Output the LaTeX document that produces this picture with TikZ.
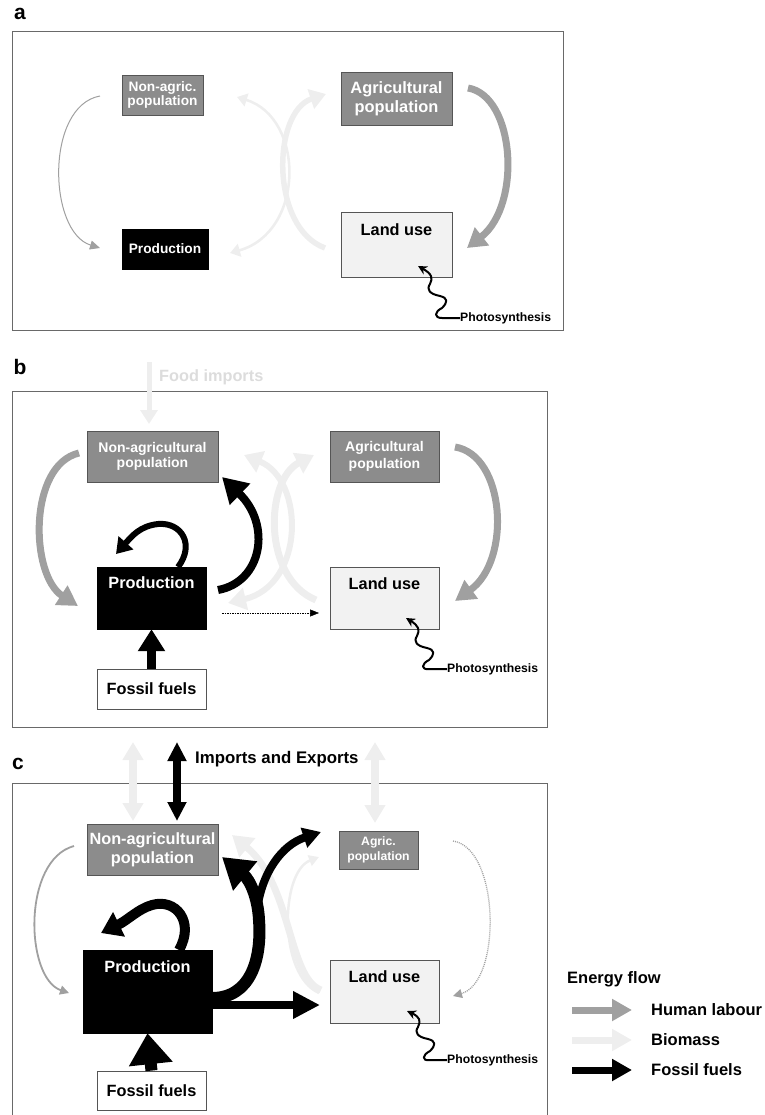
\documentclass[tikz,border=0pt]{standalone}
\usepackage{fontspec}
\setmainfont{Liberation Sans}
\usetikzlibrary{arrows.meta}
\definecolor{boxgray}{RGB}{140,140,140}
\definecolor{labourc}{RGB}{160,160,160}
\definecolor{biomassc}{RGB}{238,238,238}
\definecolor{landfill}{RGB}{242,242,242}
\definecolor{framec}{RGB}{105,105,105}
\definecolor{edgec}{RGB}{85,85,85}
\definecolor{foodtxt}{RGB}{220,220,220}
\begin{document}
\begin{tikzpicture}[x=1pt,y=-1pt,
  fsX/.style={font=\bfseries\fontsize{21}{24}\selectfont},
  fsL/.style={font=\bfseries\fontsize{16.3}{19}\selectfont},
  fsM/.style={font=\bfseries\fontsize{14}{15.5}\selectfont},
  fsA/.style={font=\bfseries\fontsize{13.7}{14.5}\selectfont},
  fsS/.style={font=\bfseries\fontsize{12.2}{14}\selectfont},
  popbox/.style={draw=edgec, fill=boxgray, text=white, align=center, inner sep=0pt, line width=0.8pt},
  prodbox/.style={draw=black, fill=black, text=white, inner sep=0pt},
  landbox/.style={draw=edgec, fill=landfill, inner sep=0pt, line width=0.8pt},
  fossilbox/.style={draw=edgec, fill=white, inner sep=0pt, line width=0.8pt},
  txt/.style={inner sep=0pt},
  frame/.style={draw=framec, line width=0.9pt},
  wh/.style 2 args={minimum width=#1pt, minimum height=#2pt},
  head/.style 2 args={-{Triangle[length=#1pt,width=#2pt]}},
  dhead/.style 2 args={{Triangle[length=#1pt,width=#2pt]}-{Triangle[length=#1pt,width=#2pt]}},
  flowL/.style={draw=labourc, line width=#1pt},
  flowB/.style={draw=biomassc, line width=#1pt},
  flowF/.style={draw=black, line width=#1pt},
  wavy/.style={draw=black, line width=2pt, -{Stealth[length=9pt,width=9pt]}, line join=round},
]
\useasboundingbox (0,0) rectangle (764,1115);

% ================= panel a =================
\node[txt,fsX] (la) at (20,14) {a};
\draw[frame] (12,31) rectangle (563,330);
\node[popbox,fsA,wh={81}{40}] (nonA) at (162.5,95) {Non-agric.\\population};
\node[prodbox,fsA,wh={86}{40}] (prodA) at (165,249) {Production};
\node[popbox,font=\bfseries\fontsize{16.4}{19}\selectfont,wh={111}{53}] (agrA) at (396.5,98.5) {Agricultural\\population};
\node[landbox,wh={111}{65}] (landA) at (396.5,244.5) {};
\node[txt,fsL] (landAt) at (396.5,230) {Land use};
\node[txt,fsS,anchor=west] (photoA) at (460,318) {Photosynthesis};
\coordinate (aBs) at (325,248); \coordinate (aBe) at (326,94);
\coordinate (aDs) at (237,97);  \coordinate (aDe) at (230,253);
\coordinate (aLs) at (100,96);  \coordinate (aLe) at (100,248);
\coordinate (aGs) at (468,88);  \coordinate (aGe) at (467,248);
\draw[flowB={5.5},head={16}{20}] (aBs) .. controls (270,228) and (272,112) .. (aBe);
\draw[flowB={2.6},dhead={10}{13}] (aDs) .. controls (305,118) and (305,232) .. (aDe);
\draw[flowL={1},head={10}{9}] (aLs) .. controls (45,106) and (48,232) .. (aLe);
\draw[flowL={7},head={19}{22}] (aGs) .. controls (515,96) and (522,205) .. (aGe);
\coordinate (aW) at (418,266);
\draw[wavy] (photoA.west) -- ++(-18,0) .. controls (434,318) and (434,312) .. (442,308) .. controls (448,302) and (448,298) .. (440,296) .. controls (430,294) and (426,290) .. (430,284) .. controls (433,278) and (432,274) .. (aW);

% ================= panel b =================
\node[txt,fsX] (lb) at (20,367) {b};
\node[txt,fsL,text=foodtxt,anchor=west] (foodB) at (159,377) {Food imports};
\draw[frame] (12,391) rectangle (547,727);
\node[popbox,fsM,wh={131}{51}] (nonB) at (152.5,456.5) {Non-agricultural\\population};
\node[popbox,font=\bfseries\fontsize{14}{17}\selectfont,wh={109}{51}] (agrB) at (384.5,456.5) {Agricultural\\population};
\node[prodbox,wh={109}{62}] (prodB) at (151.5,598) {};
\node[txt,fsL,text=white] (prodBt) at (151.5,583) {Production};
\node[landbox,wh={109}{62}] (landB) at (384.5,598) {};
\node[txt,fsL] (landBt) at (384.5,584) {Land use};
\node[fossilbox,fsL,wh={109}{40}] (fossilB) at (151.5,689) {Fossil fuels};
\node[txt,fsS,anchor=west] (photoB) at (447,669) {Photosynthesis};
\coordinate (bFs) at (149,362); \coordinate (bFe) at (149,424);
\draw[flowB={5},head={14}{17}] (bFs) -- (bFe);
\coordinate (bBs) at (316,600); \coordinate (bBe) at (314,455);
\coordinate (bDs) at (244,455); \coordinate (bDe) at (228,603);
\draw[flowB={7},head={18}{22}] (bBs) .. controls (262,578) and (265,480) .. (bBe);
\draw[flowB={6},dhead={18}{22}] (bDs) .. controls (305,480) and (305,585) .. (bDe);
\coordinate (bLs) at (79,453);  \coordinate (bLe) at (78,606);
\coordinate (bGs) at (455,447); \coordinate (bGe) at (455,601);
\draw[flowL={7},head={20}{22}] (bLs) .. controls (28,465) and (30,575) .. (bLe);
\draw[flowL={7},head={20}{22}] (bGs) .. controls (505,455) and (512,560) .. (bGe);
\draw[flowF={9},head={22}{26}] (fossilB.north) -- (prodB.south);
\coordinate (bPs) at (218,590); \coordinate (bPe) at (222,477);
\draw[flowF={8},head={25}{28}] (bPs) .. controls (262,582) and (272,525) .. (bPe);
\coordinate (bSs) at (178,567); \coordinate (bSe) at (116,554);
\draw[flowF={6},head={15}{19}] (bSs) .. controls (195,545) and (182,522) .. (158,524) .. controls (140,526) and (132,536) .. (bSe);
\coordinate (bDs2) at (222,613); \coordinate (bDe2) at (319,613);
\draw[draw=black,line width=0.5pt,dash pattern=on 1.5pt off 1pt,head={9}{7}] (bDs2) -- (bDe2);
\coordinate (bW) at (406,618);
\draw[wavy] (photoB.west) -- ++(-18,0) .. controls (421,670) and (421,664) .. (429,660) .. controls (435,654) and (435,650) .. (427,648) .. controls (417,646) and (413,642) .. (417,636) .. controls (420,630) and (419,626) .. (bW);

% ================= panel c =================
\node[txt,fsX] (lc) at (18,764) {c};
\node[txt,fsL,anchor=west,font=\bfseries\fontsize{16.8}{19}\selectfont] (impC) at (195,759) {Imports and Exports};
\draw[frame] (12,1116) -- (12,783) -- (547,783) -- (547,1116);
\node[popbox,fsL,wh={131}{51}] (nonC) at (152.5,849.5) {Non-agricultural\\population};
\node[popbox,font=\bfseries\fontsize{12.2}{15}\selectfont,wh={79}{38}] (agrC) at (378.5,850) {Agric.\\population};
\node[prodbox,wh={129}{83}] (prodC) at (147.5,991.5) {};
\node[txt,fsL,text=white] (prodCt) at (147.5,967) {Production};
\node[landbox,wh={109}{63}] (landC) at (384.5,991.5) {};
\node[txt,fsL] (landCt) at (384.5,977) {Land use};
\node[fossilbox,fsL,wh={109}{39}] (fossilC) at (151.5,1090.5) {Fossil fuels};
\node[txt,fsS,anchor=west] (photoC) at (447,1060) {Photosynthesis};
% import/export arrows
\coordinate (cI1s) at (133,742); \coordinate (cI1e) at (133,821);
\coordinate (cI2s) at (177,742); \coordinate (cI2e) at (177,821);
\coordinate (cI3s) at (375,742); \coordinate (cI3e) at (375,823);
\draw[flowB={8},dhead={18}{20}] (cI1s) -- (cI1e);
\draw[flowB={8},dhead={18}{20}] (cI3s) -- (cI3e);
\draw[flowF={8},dhead={19}{18}] (cI2s) -- (cI2e);
% biomass
\coordinate (cBs) at (319,993); \coordinate (cBe) at (319,857);
\draw[flowB={2.5},head={10}{11}] (cBs) .. controls (278,975) and (280,872) .. (cBe);
\coordinate (cTs) at (321,990); \coordinate (cTe) at (232,835);
\draw[flowB={7},head={20}{24}] (cTs) .. controls (288,978) and (292,885) .. (cTe);
% labour
\coordinate (cLs) at (74,846);  \coordinate (cLe) at (69,993);
\draw[flowL={1.8},head={9}{9}] (cLs) .. controls (22,860) and (25,978) .. (cLe);
\coordinate (cGs) at (453,841); \coordinate (cGe) at (453,996);
\draw[draw=labourc,line width=1.3pt,dash pattern=on 1pt off 1pt,head={9}{9}] (cGs) .. controls (500,848) and (502,982) .. (cGe);
% fossil
\draw[flowF={12},head={31}{42}] (fossilC.north) -- (prodC.south);
\coordinate (cSs) at (179,950); \coordinate (cSe) at (101,933);
\draw[flowF={10},head={20}{26}] (cSs) .. controls (195,922) and (176,898) .. (152,905) .. controls (138,909) and (128,920) .. (cSe);
\coordinate (cPs) at (212,998); \coordinate (cPm) at (259,920); \coordinate (cPe) at (222,857);
\draw[flowF={12},head={30}{36}] (cPs) .. controls (250,998) and (262,960) .. (cPm) .. controls (258,898) and (250,880) .. (cPe);
\coordinate (cQs) at (257,910); \coordinate (cQe) at (321,832);
\draw[flowF={8},head={18}{20}] (cQs) .. controls (262,872) and (282,845) .. (cQe);
\coordinate (cRs) at (212,1005); \coordinate (cRe) at (320,1005);
\draw[flowF={7.5},head={27}{26}] (cRs) -- (cRe);
\coordinate (cW) at (407,1011);
\draw[wavy] (photoC.west) -- ++(-18,0) .. controls (422,1061) and (422,1055) .. (430,1051) .. controls (436,1045) and (436,1041) .. (428,1039) .. controls (418,1037) and (414,1033) .. (418,1027) .. controls (421,1021) and (420,1017) .. (cW);

% ================= legend =================
\node[txt,anchor=west,font=\bfseries\fontsize{16.5}{19}\selectfont] (legT) at (567,979) {Energy flow};
\coordinate (g1s) at (572,1010); \coordinate (g1e) at (632,1010);
\coordinate (g2s) at (572,1040); \coordinate (g2e) at (632,1040);
\coordinate (g3s) at (572,1070); \coordinate (g3e) at (632,1070);
\draw[flowL={7},head={20}{21}] (g1s) -- (g1e);
\draw[flowB={7},head={20}{21}] (g2s) -- (g2e);
\draw[flowF={7},head={20}{21}] (g3s) -- (g3e);
\node[txt,anchor=west,font=\bfseries\fontsize{16.5}{19}\selectfont] (g1t) at (651,1010) {Human labour};
\node[txt,anchor=west,font=\bfseries\fontsize{16.5}{19}\selectfont] (g2t) at (651,1040) {Biomass};
\node[txt,anchor=west,font=\bfseries\fontsize{16.5}{19}\selectfont] (g3t) at (651,1070) {Fossil fuels};
\end{tikzpicture}
\end{document}
